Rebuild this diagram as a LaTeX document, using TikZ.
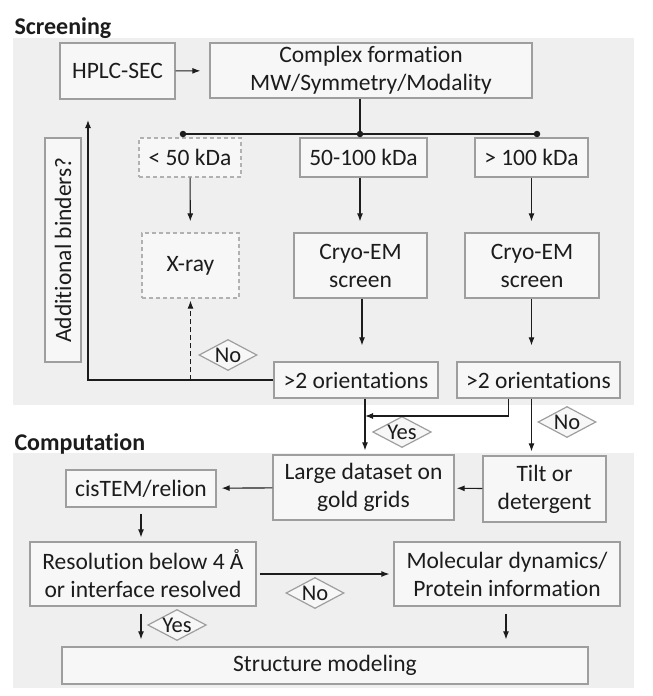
\documentclass[tikz,border=0pt]{standalone}
\usepackage{fontspec}
\setmainfont[Ligatures=NoCommon]{Carlito}
\usetikzlibrary{arrows.meta,shapes.geometric}
\definecolor{panel}{HTML}{EFEFEF}
\definecolor{edge}{HTML}{9E9E9E}
\definecolor{ink}{HTML}{1C1C1C}
\tikzset{
  box/.style     = {rectangle, draw=edge, fill=panel!50, line width=1.3pt,
                    text=ink, align=center, font=\fontsize{23.5}{28}\selectfont},
  maybe/.style   = {box, dashed, draw=edge!80, dash pattern=on 4pt off 3pt},
  answer/.style  = {diamond, aspect=2, draw=edge, fill=panel!50, line width=1.2pt,
                    inner sep=0pt, minimum width=58pt, minimum height=31pt,
                    text=ink, font=\fontsize{22.5}{24}\selectfont},
  flow/.style    = {-{Latex[length=8pt,width=6pt]}, line width=1.1pt, draw=ink},
  link/.style    = {line width=1.1pt, draw=ink},
  heading/.style = {anchor=base west, text=ink, font=\bfseries\fontsize{24}{28}\selectfont},
  dot/.style     = {circle, fill=ink, inner sep=0pt, minimum size=6.5pt},
}

\begin{document}
\begin{tikzpicture}[x=1pt,y=-1pt]
  \useasboundingbox (0,0) rectangle (653,696);
  \fill[panel] (13,38) rectangle (634,405);
  \fill[panel] (13,453) rectangle (634,688);
  \node[heading] (screening)   at (11,34)  {Screening};
  \node[heading] (computation) at (11,450) {Computation};

  % screening
  \node[box, minimum width=115pt, minimum height=56pt] (hplc)    at (117.5,71) {HPLC-SEC};
  \node[box, minimum width=322pt, minimum height=55pt] (complex) at (371,70.5) {Complex formation\\MW/Symmetry/Modality};
  \node[maybe, minimum width=102pt, minimum height=39pt] (small) at (190,157.5)   {< 50 kDa};
  \node[box,   minimum width=127pt, minimum height=39pt] (mid)   at (363.5,157.5) {50-100 kDa};
  \node[box,   minimum width=113pt, minimum height=39pt] (large) at (531.5,157.5) {> 100 kDa};
  \node[maybe, minimum width=97pt,  minimum height=65pt] (xray)  at (190.5,265.5) {X-ray};
  \node[box,   minimum width=133pt, minimum height=65pt] (cryo1) at (360.5,265.5) {Cryo-EM\\screen};
  \node[box,   minimum width=134pt, minimum height=65pt] (cryo2) at (532,265.5)   {Cryo-EM\\screen};
  \node[box, minimum width=164pt, minimum height=36pt] (orient1) at (356,380)   {>2 orientations};
  \node[box, minimum width=163pt, minimum height=36pt] (orient2) at (538.5,380) {>2 orientations};
  \node[box, rotate=90, minimum width=224pt, minimum height=36pt] (binders) at (63,250) {Additional binders?};
  \node[dot] (splitl) at (183,134) {};
  \node[dot] (split)  at (360,134) {};
  \node[dot] (splitr) at (537,134) {};
  \coordinate (loop) at (88,120);
  \coordinate (join) at (365,416);

  % computation
  \node[box, minimum width=181pt, minimum height=65pt] (dataset) at (363.5,487.5) {Large dataset on\\gold grids};
  \node[box, minimum width=123pt, minimum height=66pt] (tilt)    at (544.5,489)   {Tilt or\\detergent};
  \node[box, minimum width=150pt, minimum height=37pt] (cistem)  at (141,488.5)   {cisTEM/relion};
  \node[box, minimum width=226pt, minimum height=64pt] (resol)   at (143,574)     {Resolution below 4 Å\\or interface resolved};
  \node[box, minimum width=226pt, minimum height=64pt] (md)      at (507,574)     {Molecular dynamics/\\Protein information};
  \node[box, minimum width=526pt, minimum height=37pt] (model)   at (325,665.5)   {Structure modeling};

  \node[answer] (no1)  at (228,355) {No};
  \node[answer] (yes1) at (402,432) {Yes};
  \node[answer] (no2)  at (567,422) {No};
  \node[answer] (no3)  at (315,593) {No};
  \node[answer] (yes2) at (177,625) {Yes};

  \draw[flow, shorten >=9pt] (hplc) -- (complex);
  \draw[link] (complex.south -| split) -- (split);
  \draw[link] (splitl) -- (splitr);
  \draw[flow, shorten >=11pt] (small) -- (xray);
  \draw[flow, shorten >=11pt] (split |- mid.south) -- (split |- cryo1.north);
  \draw[flow, shorten >=11pt] (large) -- (large |- cryo2.north);
  \draw[flow, shorten >=16pt] ([xshift=1.5pt]cryo1.south) -- ([xshift=1.5pt]cryo1.south |- orient1.north);
  \draw[flow, shorten >=16pt] (large |- cryo2.south) -- (large |- orient2.north);
  \draw[flow] (orient1.west) -| (loop);
  \draw[flow, dash pattern=on 5pt off 3pt, shorten >=2pt] (xray |- orient1.west) -- (xray.south);
  \draw[flow, shorten >=4pt] (join |- orient1.south) -- (join |- dataset.north);
  \draw[flow] ([xshift=-30pt]orient2.south) |- (join);
  \draw[flow, shorten >=4pt] (large |- orient2.south) -- (large |- tilt.north);
  \draw[flow, shorten >=2pt] (tilt) -- (dataset);
  \draw[flow, shorten >=5pt] (dataset) -- (cistem);
  \draw[flow, shorten <=6pt, shorten >=4pt] (cistem) -- (cistem |- resol.north);
  \draw[flow, shorten <=3pt, shorten >=4pt] (resol) -- (md);
  \draw[flow, shorten <=7pt, shorten >=7pt] (cistem |- resol.south) -- (cistem |- model.north);
  \draw[flow, shorten <=7pt, shorten >=7pt] ([xshift=-1pt]md.south) -- ([xshift=-1pt]md.south |- model.north);
\end{tikzpicture}
\end{document}
